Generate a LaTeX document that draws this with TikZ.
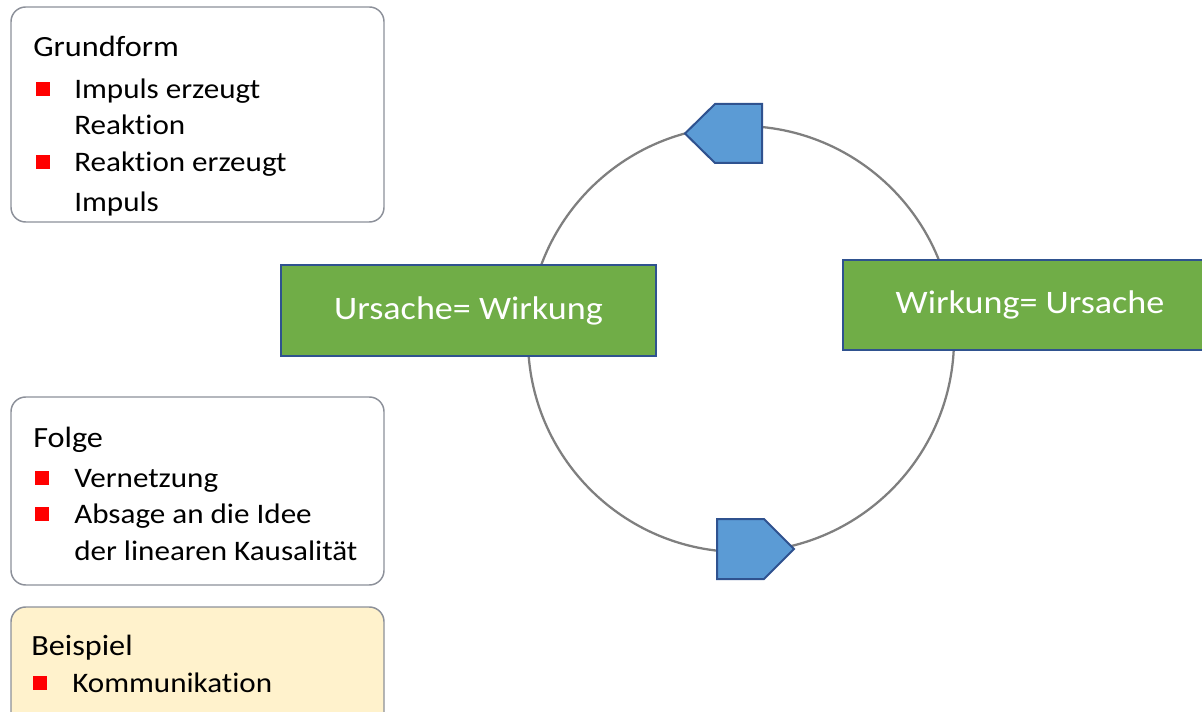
\documentclass[tikz,border=0pt]{standalone}
\usepackage{fontspec}
\setmainfont{Carlito}[FakeStretch=1.1, Ligatures=NoCommon, RawFeature={-calt;-clig}]
\definecolor{boxgreen}{HTML}{70AD47}
\definecolor{boxblue}{HTML}{5B9BD5}
\definecolor{edgeblue}{HTML}{2F528F}
\definecolor{ringgrey}{HTML}{7F7F7F}
\definecolor{framegrey}{HTML}{8C9099}
\definecolor{notefill}{HTML}{FFF2CC}
\newcommand{\titlefont}{\fontsize{22}{26}\selectfont}
\newcommand{\itemfont}{\fontsize{21.2}{25}\selectfont}
\tikzset{
  effect/.style={draw=edgeblue, line width=1.5pt, fill=boxgreen, text=white,
    minimum width=281pt, minimum height=68pt, inner sep=0pt,
    font=\fontsize{24.6}{29}\selectfont},
  infobox/.style={draw=framegrey, line width=1.1pt, rounded corners=11pt},
  head/.style={anchor=base west, inner sep=0pt, font=\titlefont},
  entry/.style={anchor=base west, inner sep=0pt, font=\itemfont},
  bullet/.style={fill=red, minimum size=10.5pt, inner sep=0pt},
  arrowtip/.style={fill=boxblue, draw=edgeblue, line width=1.5pt, line join=miter},
}
\begin{document}
\begin{tikzpicture}[x=0.75pt,y=-0.75pt]
        \useasboundingbox (0,0) rectangle (1202,712);
        \clip (0,0) rectangle (1202,712);
        %% Info boxes
        \draw[infobox] (11,7) rectangle (384,222);
        \draw[infobox] (11,397) rectangle (384,585);
        \draw[infobox, fill=notefill] (11,607) rectangle (384,740);
        \foreach \bx/\by [count=\i] in {42.5/89.5, 42.5/162.5, 42/477.5, 42/513.5, 40/682.5}
            \node[bullet] (bul\i) at (\bx,\by) {};
        %% Grundform
        \node[head] (grund) at (33,57) {Grundform};
        \node[entry] (grundA) at (74,99) {Impuls erzeugt};
        \node[entry] (grundB) at (74,135) {Reaktion};
        \node[entry] (grundC) at (74,172) {Reaktion erzeugt};
        \node[entry] (grundD) at (74,212) {Impuls};
        %% Folge
        \node[head] (folge) at (33,447) {Folge};
        \node[entry] (folgeA) at (74,487) {Vernetzung};
        \node[entry] (folgeB) at (74,523) {Absage an die Idee};
        \node[entry] (folgeC) at (74,560) {der linearen Kausalität};
        %% Beispiel
        \node[head] (beisp) at (31,655) {Beispiel};
        \node[entry] (beispA) at (72,692) {Kommunikation};
        %% Cycle
        \draw[ringgrey, line width=1.7pt] (741,339) circle [radius=159.75pt];
        \filldraw[arrowtip] (715,104) -- (762,104) -- (762,163) -- (715,163) -- (685,133.5) -- cycle;
        \filldraw[arrowtip] (717,519) -- (764,519) -- (794,549) -- (764,579) -- (717,579) -- cycle;
        \node[effect] (ursache) at (468.5,310.5) {Ursache= Wirkung};
        \node[effect] (wirkung) at (1030,305) {Wirkung= Ursache};
    \end{tikzpicture}
\end{document}
